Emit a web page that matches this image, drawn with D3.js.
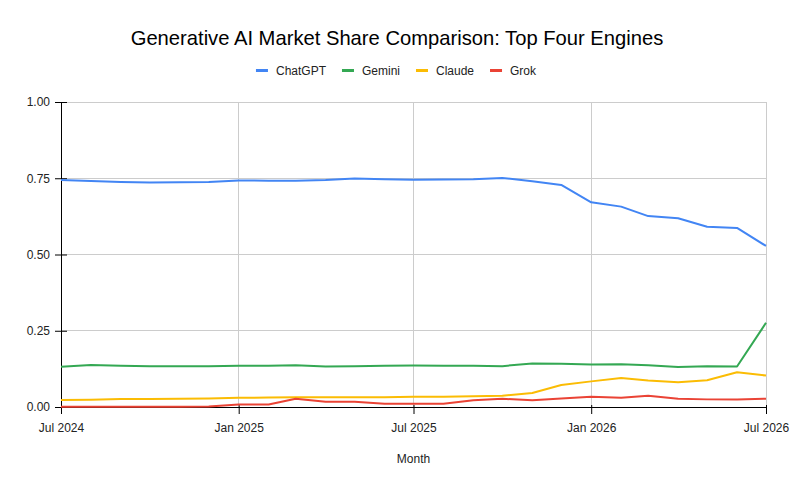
<!DOCTYPE html>
<html>
<head>
<meta charset="utf-8">
<script src="https://cdn.jsdelivr.net/npm/d3@7"></script>
<style>
  body { margin: 0; background: #fff; }
  svg { display: block; font-family: "Liberation Sans", Arial, sans-serif; }
</style>
</head>
<body>
<svg id="chart" width="791" height="490"></svg>
<script>
// ---- Data ----
const months = ["2024-07","2024-08","2024-09","2024-10","2024-11","2024-12",
  "2025-01","2025-02","2025-03","2025-04","2025-05","2025-06",
  "2025-07","2025-08","2025-09","2025-10","2025-11","2025-12",
  "2026-01","2026-02","2026-03","2026-04","2026-05","2026-06","2026-07"];
const seriesNames = ["ChatGPT", "Gemini", "Claude", "Grok"];
const chatgpt = [0.744,0.741,0.738,0.736,0.737,0.738,0.743,0.742,0.742,0.744,0.749,0.747,
  0.745,0.746,0.747,0.751,0.740,0.728,0.671,0.657,0.626,0.619,0.591,0.587,0.528];
const gemini = [0.132,0.138,0.135,0.134,0.134,0.134,0.135,0.135,0.137,0.133,0.134,0.135,
  0.136,0.135,0.135,0.134,0.143,0.142,0.139,0.140,0.137,0.131,0.134,0.133,0.276];
const claude = [0.023,0.024,0.026,0.026,0.027,0.028,0.030,0.031,0.032,0.032,0.032,0.032,
  0.034,0.034,0.035,0.037,0.046,0.072,0.084,0.095,0.087,0.081,0.088,0.114,0.103];
const grok = [0.001,0.001,0.001,0.001,0.001,0.002,0.008,0.008,0.027,0.017,0.017,0.011,
  0.011,0.011,0.022,0.027,0.022,0.028,0.034,0.030,0.037,0.027,0.025,0.025,0.027];
const yTicks = [0, 0.25, 0.5, 0.75, 1.0];
const xTickLabels = ["2024-07","2025-01","2025-07","2026-01","2026-07"];
const colors = ["#4285F4", "#34A853", "#FBBC04", "#EA4335"];
const titleText = "Generative AI Market Share Comparison: Top Four Engines";
const xTitle = "Month";

// ---- Layout ----
const W = 791, H = 490;
const mLeft = 61, mRight = 766, mTop = 102, mBottom = 407;
const parse = d3.timeParse("%Y-%m");
const svg = d3.select("#chart");

const x = d3.scaleTime().domain([parse(months[0]), parse(months[months.length-1])]).range([mLeft, mRight]);
const y = d3.scaleLinear().domain([0, 1]).range([mBottom, mTop]);

// Grid
const grid = svg.append("g");
grid.selectAll("line.h").data(yTicks.filter(d => d > 0)).join("line")
  .attr("x1", mLeft).attr("x2", mRight)
  .attr("y1", d => y(d)).attr("y2", d => y(d))
  .attr("stroke", "#cccccc").attr("stroke-width", 1).attr("shape-rendering", "crispEdges");
grid.selectAll("line.v").data(xTickLabels.slice(1).map(parse)).join("line")
  .attr("x1", d => x(d)).attr("x2", d => x(d))
  .attr("y1", mTop).attr("y2", mBottom)
  .attr("stroke", "#cccccc").attr("stroke-width", 1).attr("shape-rendering", "crispEdges");

// Axes
const yAxis = d3.axisLeft(y).tickValues(yTicks).tickFormat(d3.format(".2f")).tickSize(0).tickPadding(11);
const yg = svg.append("g").attr("transform", `translate(${mLeft},0)`).call(yAxis);
yg.select(".domain").attr("stroke", "#000");
yg.selectAll(".tick line").remove();
yg.selectAll(".tick").append("line").attr("x1", -6).attr("x2", 6).attr("stroke", "#000");
yg.selectAll(".tick text").attr("font-size", 12).attr("fill", "#222").attr("font-family", "Liberation Sans, Arial, sans-serif");

const xAxis = d3.axisBottom(x).tickValues(xTickLabels.map(parse)).tickFormat(d3.timeFormat("%b %Y")).tickSize(7).tickPadding(9);
const xg = svg.append("g").attr("transform", `translate(0,${mBottom})`).call(xAxis);
xg.select(".domain").attr("stroke", "#000").attr("d", `M${mLeft},0.5H${mRight}`);
xg.selectAll(".tick line").attr("stroke", "#000").attr("y1", -2);
xg.selectAll(".tick text").attr("font-size", 12).attr("fill", "#222").attr("font-family", "Liberation Sans, Arial, sans-serif");

// Lines
const allSeries = [chatgpt, gemini, claude, grok];
const line = d3.line().x((d, i) => x(parse(months[i]))).y(d => y(d));
svg.append("g").selectAll("path").data(allSeries).join("path")
  .attr("d", d => line(d))
  .attr("fill", "none")
  .attr("stroke", (d, i) => colors[i])
  .attr("stroke-width", 2)
  .attr("stroke-linejoin", "round");

// Title
svg.append("text").attr("x", 397).attr("y", 45).attr("text-anchor", "middle")
  .attr("font-size", 20.2).attr("fill", "#000").text(titleText);

// Legend
const lg = svg.append("g");
const items = lg.selectAll("g").data(seriesNames).join("g");
items.append("rect").attr("width", 12).attr("height", 3).attr("y", -2)
  .attr("fill", (d, i) => colors[i]);
items.append("text").attr("x", 20).attr("y", 4).attr("font-size", 12).attr("fill", "#222").text(d => d);
let offs = [], cx = 0;
items.each(function(d) {
  const w = this.querySelector("text").getComputedTextLength();
  offs.push(cx); cx += 20 + w + 16;
});
const totalW = cx - 16;
const startX = 396 - totalW / 2;
items.attr("transform", (d, i) => `translate(${startX + offs[i]},71)`);

// X axis title
svg.append("text").attr("x", (mLeft + mRight) / 2).attr("y", 463).attr("text-anchor", "middle")
  .attr("font-size", 12).attr("fill", "#222").text(xTitle);
</script>
</body>
</html>
